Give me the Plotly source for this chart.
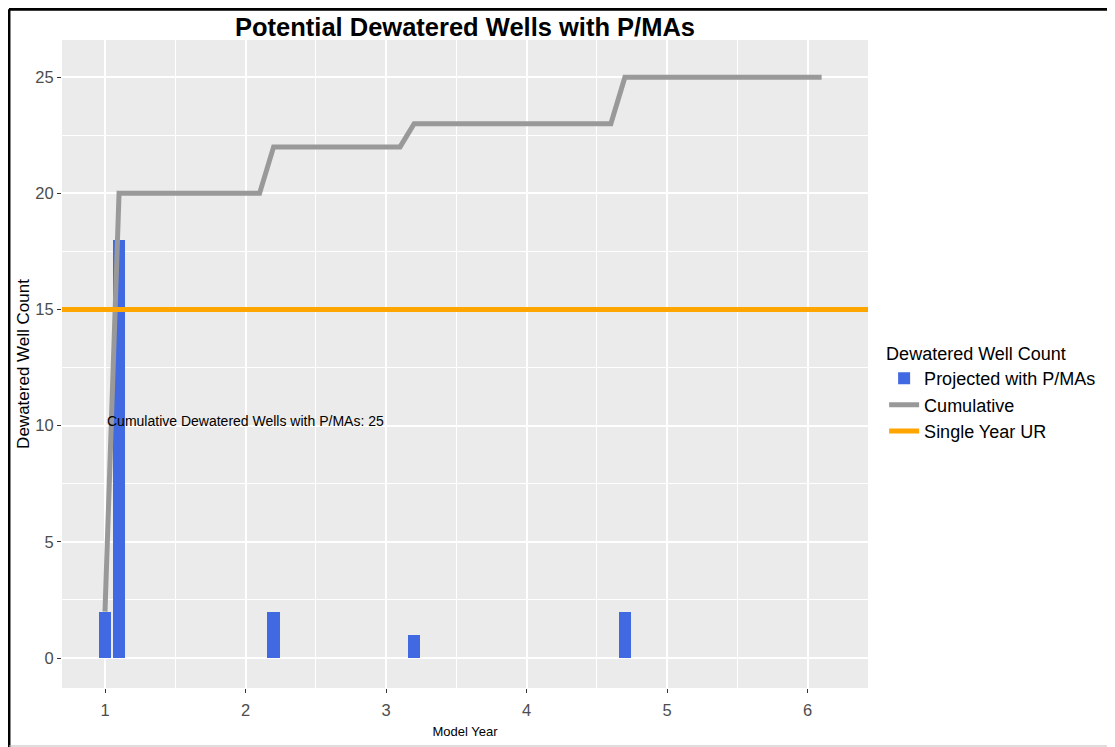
import plotly.graph_objects as go

# ---- data ----
bar_years = [1.0, 1.1, 2.2, 3.2, 4.7]
bar_counts = [2, 18, 2, 1, 2]
cum_years = [1.0, 1.1, 2.1, 2.2, 3.1, 3.2, 4.6, 4.7, 6.1]
cum_values = [2, 20, 20, 22, 22, 23, 23, 25, 25]
single_year_ur = 15
x_ticks = [1, 2, 3, 4, 5, 6]
y_ticks = [0, 5, 10, 15, 20, 25]
annotation_text = "Cumulative Dewatered Wells with P/MAs: 25"

FONT = "Liberation Sans, Arial, sans-serif"

fig = go.Figure()
fig.add_trace(go.Bar(
    x=bar_years, y=bar_counts, width=0.09,
    marker=dict(color="#4169E1", line=dict(width=0)),
    name="Projected with P/MAs"))
fig.add_trace(go.Scatter(
    x=cum_years, y=cum_values, mode="lines",
    line=dict(color="#999999", width=5),
    name="Cumulative"))
fig.add_trace(go.Scatter(
    x=[None], y=[None], mode="lines",
    line=dict(color="#FFA500", width=5),
    name="Single Year UR"))
fig.add_hline(y=single_year_ur, line=dict(color="#FFA500", width=5), layer="above")

fig.add_annotation(x=2.0, y=10.2, text=annotation_text, showarrow=False,
                   font=dict(family=FONT, size=14, color="#000000"))

# frame lines (left/top black, bottom thin gray)
fig.add_shape(type="line", xref="paper", yref="paper", x0=-0.0658, x1=1.32,
              y0=1.0475, y1=1.0475, line=dict(color="#000000", width=3))
fig.add_shape(type="line", xref="paper", yref="paper", x0=-0.0658, x1=-0.0658,
              y0=1.0475, y1=-0.095, line=dict(color="#000000", width=3))
fig.add_shape(type="line", xref="paper", yref="paper", x0=-0.0658, x1=1.32,
              y0=-0.0895, y1=-0.0895, line=dict(color="#BBBBBB", width=1))

fig.update_layout(
    width=1107, height=739,
    margin=dict(l=54, r=247, t=32, b=59),
    paper_bgcolor="#FFFFFF",
    plot_bgcolor="#EBEBEB",
    font=dict(family=FONT),
    title=dict(text="<b>Potential Dewatered Wells with P/MAs</b>",
               x=0.5, xref="paper", xanchor="center",
               y=0.974, yanchor="middle",
               font=dict(family=FONT, size=25.5, color="#000000")),
    bargap=0,
    legend=dict(
        title=dict(text="Dewatered Well Count", font=dict(size=18, color="#000000")),
        font=dict(size=18, color="#000000"),
        x=1.02, xanchor="left", y=0.455, yanchor="middle",
        bgcolor="rgba(255,255,255,0)", tracegroupgap=0),
    showlegend=True,
)
fig.update_xaxes(
    range=[0.694, 6.43], tickvals=x_ticks, ticktext=[str(v) for v in x_ticks],
    showgrid=True, gridcolor="#FFFFFF", gridwidth=1.5,
    minor=dict(dtick=0.5, tick0=0.5, showgrid=True, gridcolor="#FFFFFF", gridwidth=0.7),
    ticks="outside", ticklen=4, tickcolor="#333333", ticklabelstandoff=3,
    tickfont=dict(size=16.5, color="#4D4D4D"),
    zeroline=False, showline=False, automargin=False,
    title=dict(text="Model Year", font=dict(size=13, color="#000000"), standoff=9))
fig.update_yaxes(
    range=[-1.29, 26.6], tickvals=y_ticks, ticktext=[str(v) for v in y_ticks],
    showgrid=True, gridcolor="#FFFFFF", gridwidth=1.5,
    minor=dict(dtick=2.5, tick0=2.5, showgrid=True, gridcolor="#FFFFFF", gridwidth=0.7),
    ticks="outside", ticklen=4, tickcolor="#333333",
    tickfont=dict(size=16.5, color="#4D4D4D"),
    zeroline=False, showline=False, automargin=False,
    title=dict(text="Dewatered Well Count", font=dict(size=17, color="#000000"), standoff=1))

fig.write_html("out.html")
